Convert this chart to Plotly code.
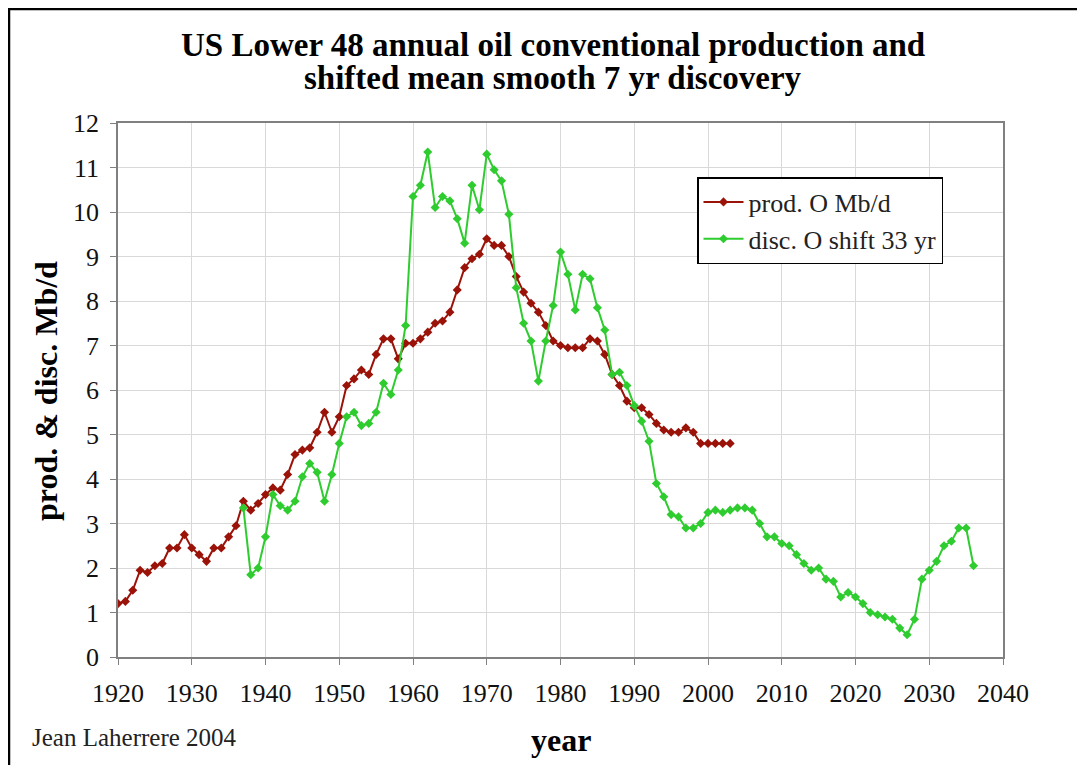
import plotly.graph_objects as go

prod_years = list(range(1920, 2004))
prod_values = [1.2, 1.25, 1.5, 1.95, 1.9, 2.05, 2.1, 2.45, 2.45, 2.75,
               2.45, 2.3, 2.15, 2.45, 2.45, 2.7, 2.95, 3.5, 3.3, 3.45,
               3.65, 3.8, 3.75, 4.1, 4.55, 4.65, 4.7, 5.05, 5.5, 5.05,
               5.4, 6.1, 6.25, 6.45, 6.35, 6.8, 7.15, 7.15, 6.7, 7.05,
               7.05, 7.15, 7.3, 7.5, 7.55, 7.75, 8.25, 8.75, 8.95, 9.05,
               9.4, 9.25, 9.25, 9.0, 8.55, 8.2, 7.95, 7.75, 7.45, 7.1,
               7.0, 6.95, 6.95, 6.95, 7.15, 7.1, 6.8, 6.35, 6.1, 5.75,
               5.6, 5.6, 5.45, 5.25, 5.1, 5.05, 5.05, 5.15, 5.05, 4.8,
               4.8, 4.8, 4.8, 4.8]

disc_years = list(range(1937, 2037))
disc_values = [3.35, 1.85, 2.0, 2.7, 3.65, 3.4, 3.3, 3.5, 4.05, 4.35,
               4.15, 3.5, 4.1, 4.8, 5.4, 5.5, 5.2, 5.25, 5.5, 6.15,
               5.9, 6.45, 7.45, 10.35, 10.6, 11.35, 10.1, 10.35, 10.25, 9.85,
               9.3, 10.6, 10.05, 11.3, 10.95, 10.7, 9.95, 8.3, 7.5, 7.1,
               6.2, 7.1, 7.9, 9.1, 8.6, 7.8, 8.6, 8.5, 7.85, 7.35,
               6.35, 6.4, 6.1, 5.65, 5.3, 4.85, 3.9, 3.6, 3.2, 3.15,
               2.9, 2.9, 3.0, 3.25, 3.3, 3.25, 3.3, 3.35, 3.35, 3.3,
               3.0, 2.7, 2.7, 2.55, 2.5, 2.3, 2.1, 1.95, 2.0, 1.75,
               1.7, 1.35, 1.45, 1.35, 1.2, 1.0, 0.95, 0.9, 0.85, 0.65,
               0.5, 0.85, 1.75, 1.95, 2.15, 2.5, 2.6, 2.9, 2.9, 2.05]

x_ticks = list(range(1920, 2041, 10))
y_ticks = list(range(0, 13))

FONT = "Liberation Serif"
RED = "#9a1208"
GREEN = "#2ecc2e"

W, H = 1085, 765
L, T, PW, PH = 110, 115, 885, 534
R = W - L - PW
B = H - T - PH


def px_x(fx):
    return (fx - L) / PW


def px_y(fy):
    return 1 - (fy - T) / PH


fig = go.Figure()
fig.add_trace(go.Scatter(
    x=prod_years, y=prod_values, mode="lines+markers", name="prod. O Mb/d",
    line=dict(color=RED, width=2),
    marker=dict(symbol="diamond", size=7, color=RED)))
fig.add_trace(go.Scatter(
    x=disc_years, y=disc_values, mode="lines+markers", name="disc. O shift 33 yr",
    line=dict(color=GREEN, width=2),
    marker=dict(symbol="diamond", size=7, color=GREEN)))

axis_common = dict(showgrid=True, gridcolor="#d9d9d9", gridwidth=1, zeroline=False,
                   showline=True, linecolor="#808080", linewidth=1.5, mirror=True,
                   ticks="outside", ticklen=6, tickcolor="#808080",
                   tickfont=dict(size=26, family=FONT, color="#111111"))

fig.update_layout(
    width=W, height=H,
    margin=dict(l=L, r=R, t=T, b=B),
    paper_bgcolor="white", plot_bgcolor="white",
    font=dict(family=FONT, color="black", size=22),
    xaxis=dict(range=[1920, 2040], tickvals=x_ticks, ticklabelstandoff=6, **axis_common),
    yaxis=dict(range=[0, 12], tickvals=y_ticks, ticklabelstandoff=6, **axis_common),
    legend=dict(x=px_x(689), y=px_y(169), xanchor="left", yanchor="top",
                bgcolor="white", bordercolor="black", borderwidth=1.5,
                font=dict(size=26, family=FONT, color="#222222"),
                tracegroupgap=0, itemwidth=40),
    showlegend=True,
)

# title lines
fig.add_annotation(text="<b>US Lower 48 annual oil conventional production and</b>",
                   xref="paper", yref="paper", x=px_x(545), y=px_y(37),
                   xanchor="center", yanchor="middle", showarrow=False,
                   font=dict(size=33, family=FONT, color="black"))
fig.add_annotation(text="<b>shifted mean smooth 7 yr discovery</b>",
                   xref="paper", yref="paper", x=px_x(545), y=px_y(70),
                   xanchor="center", yanchor="middle", showarrow=False,
                   font=dict(size=33, family=FONT, color="black"))
# axis titles
fig.add_annotation(text="<b>year</b>", xref="paper", yref="paper",
                   x=px_x(553), y=px_y(732), xanchor="center", yanchor="middle",
                   showarrow=False, font=dict(size=32, family=FONT, color="black"))
fig.add_annotation(text="<b>prod. & disc. Mb/d</b>", xref="paper", yref="paper",
                   x=px_x(38), y=px_y(383), xanchor="center", yanchor="middle",
                   textangle=-90, showarrow=False,
                   font=dict(size=32, family=FONT, color="black"))
fig.add_annotation(text="Jean Laherrere 2004", xref="paper", yref="paper",
                   x=px_x(22), y=px_y(729), xanchor="left", yanchor="middle",
                   showarrow=False, font=dict(size=25, family=FONT, color="#222222"))

fig.add_shape(type="rect", xref="paper", yref="paper",
              x0=px_x(1), x1=px_x(W + 20), y0=px_y(H + 20), y1=px_y(1),
              line=dict(color="black", width=2.5), fillcolor="rgba(0,0,0,0)", layer="below")

fig.write_html("out.html")
